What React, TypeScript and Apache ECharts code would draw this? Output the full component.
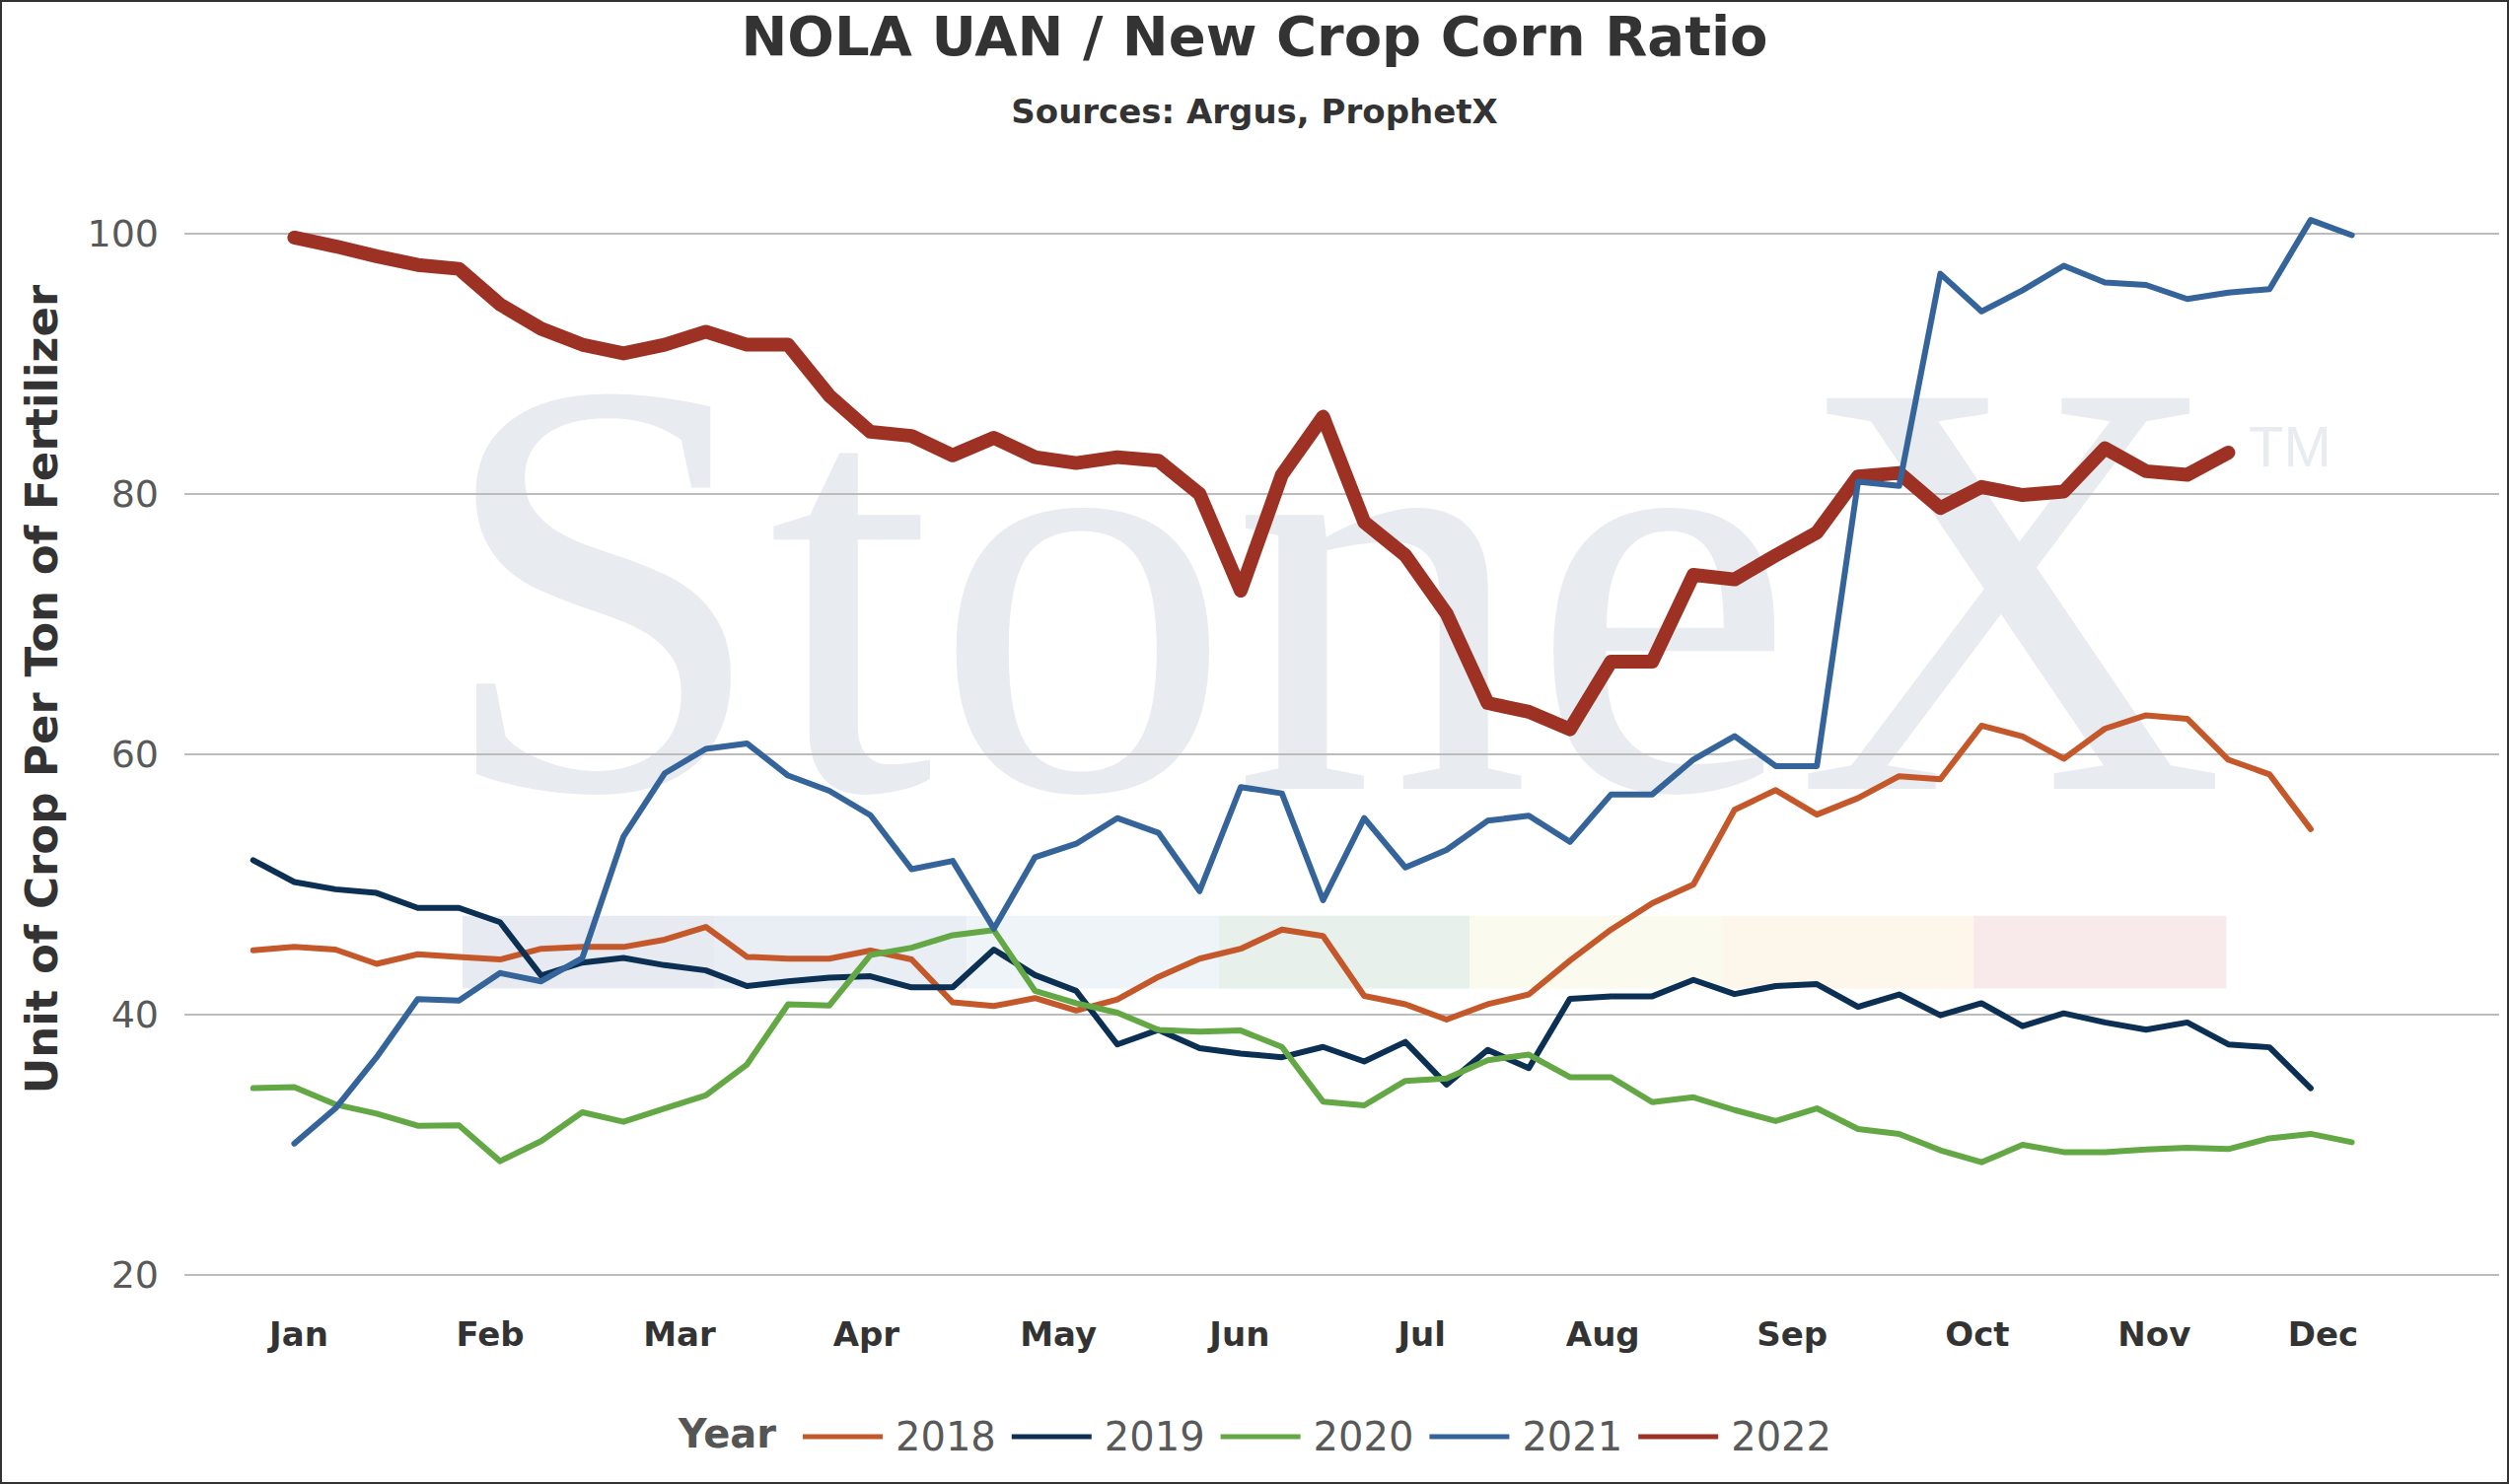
import { useEffect, useRef } from 'react';
import * as echarts from 'echarts';

const years = ['2018', '2019', '2020', '2021', '2022'];
const yearColors = ['#c4582b', '#0c3054', '#64a845', '#346499', '#9d3123'];
const yearWidths = [6, 6, 6, 6, 14];

// weekly ratio, array index = week slot on the x axis, null = no reading
const ratio2018 = [
  44.95, 45.2, 45.0, 43.9, 44.64, 44.44, 44.24, 45.06, 45.2, 45.2, 45.76, 46.74, 44.44, 44.3, 44.3, 44.92,
  44.24, 40.94, 40.66, 41.27, 40.32, 41.16, 42.9, 44.3, 45.06, 46.54, 46.04, 41.44, 40.8, 39.62, 40.8, 41.55,
  44.16, 46.54, 48.56, 50.0, 55.74, 57.25, 55.37, 56.64, 58.32, 58.09, 62.2, 61.38, 59.66, 61.97, 63.0, 62.73,
  59.58, 58.46, 54.25,
];
const ratio2019 = [
  51.87, 50.19, 49.63, 49.35, 48.2, 48.2, 47.1, 43.0, 44.0, 44.35, 43.8, 43.4, 42.2, 42.56, 42.84, 42.95,
  42.1, 42.1, 45.0, 43.04, 41.83, 37.71, 38.83, 37.43, 37.01, 36.73, 37.52, 36.4, 37.91, 34.63, 37.29, 35.89,
  41.22, 41.41, 41.41, 42.67, 41.58, 42.2, 42.34, 40.6, 41.55, 39.95, 40.88, 39.12, 40.1, 39.4, 38.84, 39.4,
  37.71, 37.49, 34.35,
];
const ratio2020 = [
  34.35, 34.43, 33.1, 32.4, 31.46, 31.49, 28.74, 30.28, 32.5, 31.77, 32.8, 33.8, 36.17, 40.8, 40.7, 44.58,
  45.14, 46.1, 46.49, 41.83, 40.88, 40.15, 38.83, 38.69, 38.78, 37.52, 33.31, 33.03, 34.91, 35.1, 36.5, 36.93,
  35.19, 35.19, 33.28, 33.65, 32.67, 31.82, 32.8, 31.21, 30.84, 29.58, 28.66, 30.0, 29.44, 29.44, 29.64, 29.78,
  29.67, 30.5, 30.84, 30.2,
];
const ratio2021 = [
  null, 30.1, 32.8, 36.73, 41.2, 41.08, 43.2, 42.56, 44.35, 53.69, 58.54, 60.42, 60.84, 58.37, 57.2, 55.32,
  51.17, 51.81, 46.6, 52.1, 53.13, 55.1, 53.97, 49.49, 57.48, 57.0, 48.79, 55.1, 51.31, 52.65, 54.9, 55.29,
  53.27, 56.92, 56.92, 59.6, 61.4, 59.1, 59.1, 80.94, 80.62, 96.92, 94.03, 95.65, 97.54, 96.25, 96.06, 94.98,
  95.47, 95.74, 101.05, 99.89,
];
const ratio2022 = [
  null, 99.7, 99.03, 98.27, 97.6, 97.3, 94.57, 92.7, 91.47, 90.8, 91.47, 92.47, 91.47, 91.47, 87.56, 84.78,
  84.46, 82.97, 84.32, 82.83, 82.38, 82.83, 82.56, 80.0, 72.58, 81.48, 85.94, 77.84, 75.28, 70.82, 63.94, 63.27,
  61.92, 67.13, 67.13, 73.79, 73.44, 75.28, 77.03, 81.35, 81.62, 78.92, 80.54, 79.92, 80.19, 83.51, 81.75, 81.48,
  83.18,
];
const yearData = [ratio2018, ratio2019, ratio2020, ratio2021, ratio2022];
const yearZ = [2, 3, 4, 6, 5];

const months = ['Jan', 'Feb', 'Mar', 'Apr', 'May', 'Jun', 'Jul', 'Aug', 'Sep', 'Oct', 'Nov', 'Dec'];
// where each month label sits, in week slots
const monthPositions = [1.11, 5.76, 10.36, 14.9, 19.57, 23.97, 28.4, 32.8, 37.4, 41.9, 46.2, 50.3];

// pale strip of coloured blocks behind the lines
const bandEdges = [5.09, 11.2, 17.34, 23.47, 29.56, 35.7, 41.81, 47.95];
const bandColors = ['#e7ebf1', '#e9eef5', '#eff4f8', '#e7f0ea', '#fafaee', '#fdf6ea', '#f8eaea'];
const bandLow = 42;
const bandHigh = 47.6;

const FONT = 'DejaVu Sans';

function buildOption(): echarts.EChartsOption {
  const bands = bandColors.map((color, i) => [
    { xAxis: bandEdges[i], yAxis: bandLow, itemStyle: { color } },
    { xAxis: bandEdges[i + 1], yAxis: bandHigh },
  ]);

  const series: any[] = years.map((year, k) => ({
    name: year,
    type: 'line',
    z: yearZ[k],
    symbol: 'none',
    showSymbol: false,
    clip: false,
    data: yearData[k]
      .map((v, i) => (v == null ? null : [i, v]))
      .filter((p) => p !== null),
    lineStyle: {
      color: yearColors[k],
      width: yearWidths[k],
      cap: 'round',
      join: 'round',
    },
    itemStyle: { color: yearColors[k] },
    ...(k === 0
      ? { markArea: { silent: true, z: 1, data: bands, itemStyle: { opacity: 1 } } }
      : {}),
  }));

  return {
    animation: false,
    backgroundColor: '#ffffff',
    textStyle: { fontFamily: FONT },
    title: {
      text: 'NOLA UAN / New Crop Corn Ratio',
      subtext: 'Sources: Argus, ProphetX',
      left: 'center',
      top: 1,
      itemGap: 32,
      textStyle: { fontFamily: FONT, fontSize: 56, fontWeight: 'bold', color: '#333333' },
      subtextStyle: { fontFamily: FONT, fontSize: 34, fontWeight: 'bold', color: '#333333' },
    },
    legend: {
      data: years,
      left: 807,
      top: 1430,
      icon: 'rect',
      itemWidth: 81,
      itemHeight: 5,
      itemGap: 16,
      textStyle: { fontFamily: FONT, fontSize: 40, color: '#595959', padding: [0, 0, 0, 8] },
    },
    graphic: [
      {
        type: 'text',
        z: -10,
        silent: true,
        x: 440,
        y: 594,
        style: {
          text: 'StoneX',
          font: '605px "Liberation Serif"',
          fill: '#e8ebf0',
          verticalAlign: 'middle',
        },
      },
      {
        type: 'text',
        z: -10,
        silent: true,
        x: 2278,
        y: 450,
        style: {
          text: 'TM',
          font: '58px "Liberation Sans"',
          fill: '#e8ebf0',
          verticalAlign: 'middle',
        },
      },
      {
        type: 'text',
        x: 785,
        y: 1452,
        style: {
          text: 'Year',
          font: `bold 40px "${FONT}"`,
          fill: '#555555',
          align: 'right',
          verticalAlign: 'middle',
        },
      },
    ],
    grid: { left: 185, right: 8, top: 235, bottom: 210, containLabel: false },
    xAxis: {
      type: 'value',
      min: -1.67,
      max: 54.58,
      axisLine: { show: false },
      axisTick: { show: false },
      splitLine: { show: false },
      axisLabel: {
        customValues: monthPositions,
        margin: 43,
        fontFamily: FONT,
        fontSize: 34,
        fontWeight: 'bold',
        color: '#333333',
        formatter: (v: number) => {
          let best = 0;
          monthPositions.forEach((p, i) => {
            if (Math.abs(p - v) < Math.abs(monthPositions[best] - v)) best = i;
          });
          return months[best];
        },
      },
    } as any,
    yAxis: {
      type: 'value',
      min: 20,
      max: 100,
      interval: 20,
      name: 'Unit of Crop Per Ton of Fertilizer',
      nameLocation: 'middle',
      nameGap: 122,
      nameTextStyle: {
        fontFamily: FONT,
        fontSize: 45,
        fontWeight: 'bold',
        color: '#333333',
        padding: [0, 0, 0, 132],
      },
      axisLine: { show: false },
      axisTick: { show: false },
      axisLabel: { margin: 26, fontFamily: FONT, fontSize: 38, color: '#595959' },
      splitLine: { lineStyle: { color: '#bcbcbc', width: 2 } },
    },
    series,
  };
}

export default function App() {
  const chartRef = useRef<HTMLDivElement>(null);

  useEffect(() => {
    document.body.style.margin = '0';
    if (!chartRef.current) return;
    const chart = echarts.init(chartRef.current, undefined, { renderer: 'svg' });
    chart.setOption(buildOption());
    return () => {
      chart.dispose();
    };
  }, []);

  return (
    <div
      style={{
        width: 2544,
        height: 1505,
        boxSizing: 'border-box',
        border: '2px solid #333',
        background: '#ffffff',
      }}
    >
      <div ref={chartRef} style={{ width: 2540, height: 1501 }} />
    </div>
  );
}
